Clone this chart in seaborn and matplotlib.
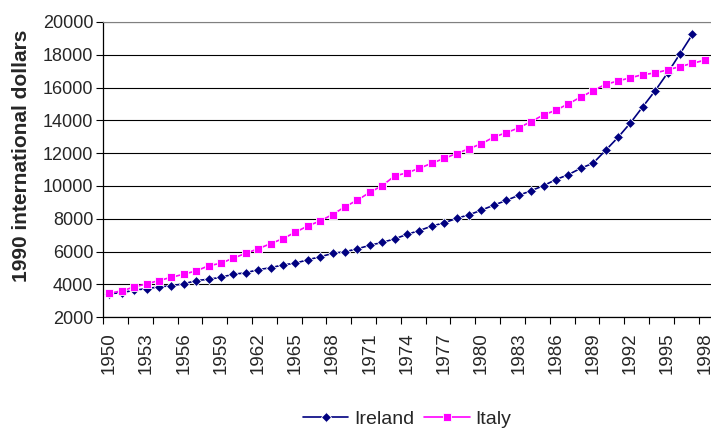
import numpy as np
import pandas as pd
import matplotlib
matplotlib.use("Agg")
import matplotlib.pyplot as plt
import seaborn as sns

# GDP per capita, 1990 international dollars
years = list(range(1950, 1999))
ireland = [3430, 3490, 3640, 3740, 3840, 3920, 4030, 4230, 4310, 4430,
           4620, 4700, 4900, 5010, 5190, 5290, 5500, 5680, 5890, 5990,
           6170, 6380, 6560, 6770, 7050, 7280, 7560, 7750, 8030, 8240,
           8530, 8830, 9120, 9430, 9710, 10020, 10390, 10690, 11080, 11390,
           12170, 12960, 13840, 14830, 15810, 16890, 18060, 19240, None]
italy = [3460, 3600, 3840, 4030, 4230, 4430, 4620, 4820, 5130, 5290,
         5600, 5890, 6170, 6480, 6790, 7180, 7560, 7870, 8260, 8730,
         9140, 9610, 10020, 10610, 10800, 11080, 11390, 11680, 11980, 12270,
         12580, 12980, 13250, 13540, 13930, 14330, 14620, 15010, 15420, 15810,
         16200, 16400, 16600, 16790, 16890, 17080, 17280, 17480, 17670]

yticks = list(range(2000, 20001, 2000))
label_years = list(range(1950, 1999, 3))

df = pd.DataFrame({
    "year": years * 2,
    "value": ireland + italy,
    "country": ["Ireland"] * len(years) + ["Italy"] * len(years),
}).dropna()

sns.set_style("white")
plt.rcParams["font.family"] = ["Liberation Sans", "DejaVu Sans"]

fig = plt.figure(figsize=(7.11, 4.28), dpi=100)
ax = fig.add_axes([0.145, 0.259, 0.855, 0.6896])

sns.lineplot(data=df, x="year", y="value", hue="country", style="country",
             palette={"Ireland": "#000080", "Italy": "#FF00FF"},
             markers={"Ireland": "D", "Italy": "s"}, dashes=False,
             markersize=5.5, markeredgewidth=0.6, linewidth=1.2, ax=ax)

ax.set_xlim(1949.5, 1998.5)
ax.set_ylim(2000, 20000)
ax.set_yticks(yticks)
ax.set_yticklabels([str(v) for v in yticks], fontsize=13)
ax.yaxis.grid(True, color="black", linewidth=0.8)
ax.set_axisbelow(True)

# tick marks at category boundaries every two years, labels every three years
ax.set_xticks(np.arange(1949.5, 1999, 2))
ax.set_xticklabels([])
ax.set_xticks(label_years, minor=True)
ax.set_xticklabels([str(y) for y in label_years], minor=True, rotation=90, fontsize=13.5)
ax.tick_params(axis="x", which="major", direction="out", length=5, width=0.8,
               color="black", bottom=True)
ax.tick_params(axis="x", which="minor", length=0, pad=11)
ax.tick_params(axis="y", direction="out", length=5, width=0.8, color="black",
               left=True, pad=2)

ax.set_xlabel("")
ax.set_ylabel("1990 international dollars", fontsize=15, fontweight="bold")
ax.yaxis.set_label_coords(-0.118, 0.546)

for side in ["left", "bottom"]:
    ax.spines[side].set_color("black")
    ax.spines[side].set_linewidth(0.9)
ax.spines["top"].set_color("#808080")
ax.spines["right"].set_visible(False)

ax.legend(loc="center", bbox_to_anchor=(0.5, -0.345), ncol=2, frameon=False,
          fontsize=14, handlelength=2.35, handletextpad=0.3, columnspacing=0.5,
          title=None)

fig.savefig("out.png", dpi=100)
